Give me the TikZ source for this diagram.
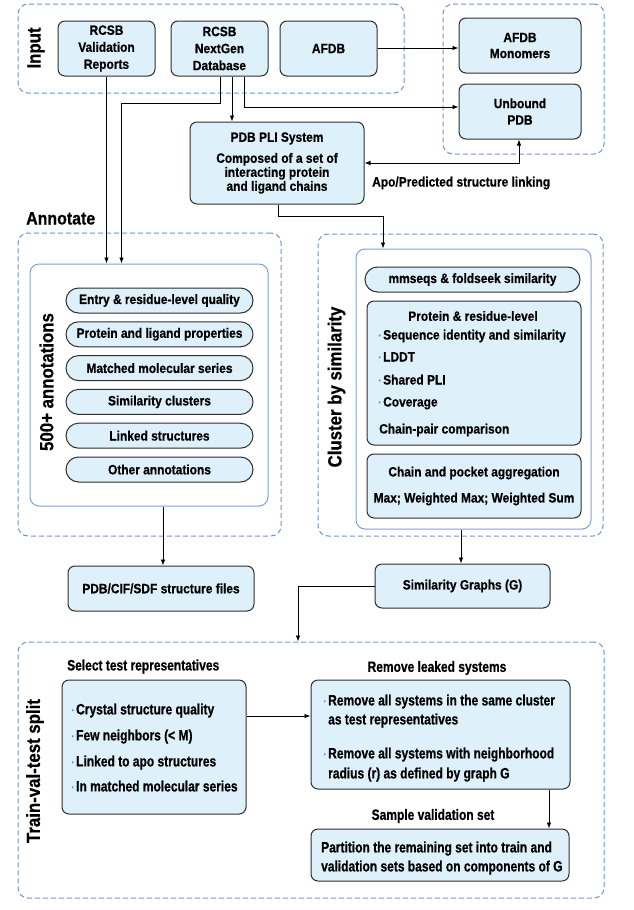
\documentclass[tikz,border=0pt]{standalone}
\usepackage{fontspec}
\setmainfont{Liberation Sans}[FakeStretch=0.885, FakeBold=0.6]
\newfontfamily\condf{Liberation Sans}[FakeStretch=0.8, FakeBold=0.6]
\usetikzlibrary{arrows.meta}
\definecolor{boxfill}{HTML}{DEF1FA}
\definecolor{boxdraw}{HTML}{2E2E2E}
\definecolor{grpblue}{HTML}{6E93D4}
\definecolor{inblue}{HTML}{7FA0DB}
\definecolor{bulblue}{HTML}{5E8BD2}
\newcommand{\bul}{\makebox[7pt][c]{\raisebox{2pt}{\fontsize{6.5}{6.5}\selectfont\textcolor{bulblue}{•}}}}
\begin{document}
\begin{tikzpicture}[x=1pt,y=-1pt,
  every node/.style={font=\fontsize{13.5}{17}\selectfont\bfseries, inner sep=0pt, text=black},
  box/.style={draw=boxdraw, fill=boxfill, line width=1pt, rounded corners=7pt, align=center},
  pill/.style={draw=boxdraw, fill=boxfill, line width=1pt, rounded corners=12.5pt, minimum height=25pt},
  grp/.style={draw=grpblue, line width=1pt, dash pattern=on 5pt off 3pt, rounded corners=10pt},
  inbox/.style={draw=inblue, line width=1pt, rounded corners=9pt},
  sect/.style={font=\fontsize{19}{20}\selectfont\bfseries},
  arr/.style={line width=0.8pt, -{Latex[length=6pt,width=4.5pt]}},
  dblarr/.style={line width=0.8pt, {Latex[length=6pt,width=4.5pt]}-{Latex[length=6pt,width=4.5pt]}},
  tl/.style={anchor=base west},
  ctext/.style={font=\condf\fontsize{15}{18}\selectfont\bfseries}
]
\fill[white] (0,0) rectangle (634,910);
\useasboundingbox (0,0) rectangle (634,910);

% ---------- Input ----------
\node[grp, minimum width=386pt, minimum height=89pt] (ingrp) at (211,48.5) {};
\node[grp, minimum width=161pt, minimum height=150pt] (rgrp) at (523.5,79) {};
\node[sect, rotate=90] (inlab) at (36,48) {Input};
\node[box, minimum width=97pt, minimum height=55pt] (val) at (106.5,48.5) {RCSB\\Validation\\Reports};
\node[box, minimum width=97pt, minimum height=55pt] (ng) at (219.5,48.5) {RCSB\\NextGen\\Database};
\node[box, minimum width=97pt, minimum height=55pt] (afdb) at (328.5,48.5) {AFDB};
\node[box, minimum width=122pt, minimum height=55pt, font=\fontsize{13.5}{16}\selectfont\bfseries] (mono) at (520,45.5) {AFDB\\Monomers};
\node[box, minimum width=122pt, minimum height=55pt, font=\fontsize{13.5}{16.5}\selectfont\bfseries] (unb) at (520,111.5) {Unbound\\PDB};
\node[box, minimum width=174pt, minimum height=82pt, font=\fontsize{13.5}{14}\selectfont\bfseries] (pli) at (277,163)
  {PDB PLI System\\[7pt]Composed of a set of\\interacting protein\\and ligand chains};
\node[tl] (apo) at (372,186.5) {Apo/Predicted structure linking};

% ---------- Annotate ----------
\node[font=\fontsize{18}{20}\selectfont\bfseries, tl] (annlab) at (26,224.5) {Annotate};
\node[grp, minimum width=263pt, minimum height=303pt] (anngrp) at (149.5,384.5) {};
\node[inbox, minimum width=238pt, minimum height=242pt] (annin) at (149,385) {};
\node[sect, rotate=90] (annrot) at (46.5,382) {500+ annotations};
\node[pill, minimum width=187pt] (a1) at (159.5,300.5) {Entry \& residue-level quality};
\node[pill, minimum width=187pt] (a2) at (159.5,334.3) {Protein and ligand properties};
\node[pill, minimum width=187pt] (a3) at (159.5,368.1) {Matched molecular series};
\node[pill, minimum width=187pt] (a4) at (159.5,401.9) {Similarity clusters};
\node[pill, minimum width=187pt] (a5) at (159.5,435.7) {Linked structures};
\node[pill, minimum width=187pt] (a6) at (159.5,469.5) {Other annotations};
\node[box, minimum width=186pt, minimum height=45pt] (files) at (161,588.5) {PDB/CIF/SDF structure files};

% ---------- Cluster ----------
\node[grp, minimum width=285pt, minimum height=302pt] (clusgrp) at (460.5,385) {};
\node[inbox, minimum width=235pt, minimum height=280pt] (clusin) at (473.5,389) {};
\node[sect, rotate=90] (cluslab) at (336.5,387) {Cluster by similarity};
\node[pill, minimum width=215pt] (mm) at (472.5,279.5) {mmseqs \& foldseek similarity};
\node[box, minimum width=214pt, minimum height=144pt] (prot) at (474,373) {};
\node (pt) at (473,316) {Protein \& residue-level};
\node[tl] (p1) at (376,339.5) {\bul Sequence identity and similarity};
\node[tl] (p2) at (376,361.5) {\bul LDDT};
\node[tl] (p3) at (376,384.5) {\bul Shared PLI};
\node[tl] (p4) at (376,406.5) {\bul Coverage};
\node[tl] (p5) at (379,433.5) {Chain-pair comparison};
\node[box, minimum width=214pt, minimum height=64pt] (chain) at (474,486)
  {Chain and pocket aggregation\\[9pt]Max; Weighted Max; Weighted Sum};
\node[box, minimum width=175pt, minimum height=44pt] (simg) at (462.5,586) {Similarity Graphs (G)};

% ---------- Train-val-test ----------
\node[grp, minimum width=586pt, minimum height=256pt] (traingrp) at (311,770) {};
\node[sect, rotate=90] (trainlab) at (35,771) {Train-val-test split};
\node[ctext, tl] (sellab) at (67,670.4) {Select test representatives};
\node[box, minimum width=184pt, minimum height=134pt] (left) at (154,747) {};
\node[ctext, tl] (l1) at (69,714.4) {\bul Crystal structure quality};
\node[ctext, tl] (l2) at (69,740.4) {\bul Few neighbors (< M)};
\node[ctext, tl] (l3) at (69,766.4) {\bul Linked to apo structures};
\node[ctext, tl] (l4) at (69,791.4) {\bul In matched molecular series};
\node[ctext] (remlab) at (437,668) {Remove leaked systems};
\node[box, minimum width=259pt, minimum height=109pt] (right) at (440.5,734.5) {};
\node[ctext, tl] (r1) at (321,705.4) {\bul Remove all systems in the same cluster};
\node[ctext, tl] (r2) at (328,724.4) {as test representatives};
\node[ctext, tl] (r3) at (321,758.4) {\bul Remove all systems with neighborhood};
\node[ctext, tl] (r4) at (328,778.4) {radius (r) as defined by graph G};
\node[ctext] (samplab) at (433,816) {Sample validation set};
\node[box, minimum width=258pt, minimum height=52pt] (part) at (440,855) {};
\node[ctext, tl] (q1) at (321,852.4) {Partition the remaining set into train and};
\node[ctext, tl] (q2) at (321,871.4) {validation sets based on components of G};

% ---------- Connectors ----------
\draw[arr] (afdb.east |- 0,48) -- (mono.west |- 0,48);
\draw[arr] (val.south) -- (val.south |- annin.north);
\draw[arr] (ng.south -| 220,0) -- (220,103) -| (annin.north -| 121.5,0);
\draw[arr] (ng.south -| 232,0) -- (pli.north -| 232,0);
\draw[arr] (ng.south -| 244,0) |- (unb.west |- 0,107);
\draw[dblarr] (pli.east |- 0,163) -| (unb.south -| 519,0);
\draw[arr] (pli.south -| 278,0) -- (278,216) -| (clusin.north -| 383,0);
\draw[arr] (annin.south -| 163,0) -- (files.north -| 163,0);
\draw[arr] (clusin.south -| 461,0) -- (simg.north -| 461,0);
\draw[arr] (simg.west) -| (traingrp.north -| 298,0);
\draw[arr] (left.east |- 0,716) -- (right.west |- 0,716);
\draw[arr] (right.south -| 549,0) -- (part.north -| 549,0);
\end{tikzpicture}
\end{document}
